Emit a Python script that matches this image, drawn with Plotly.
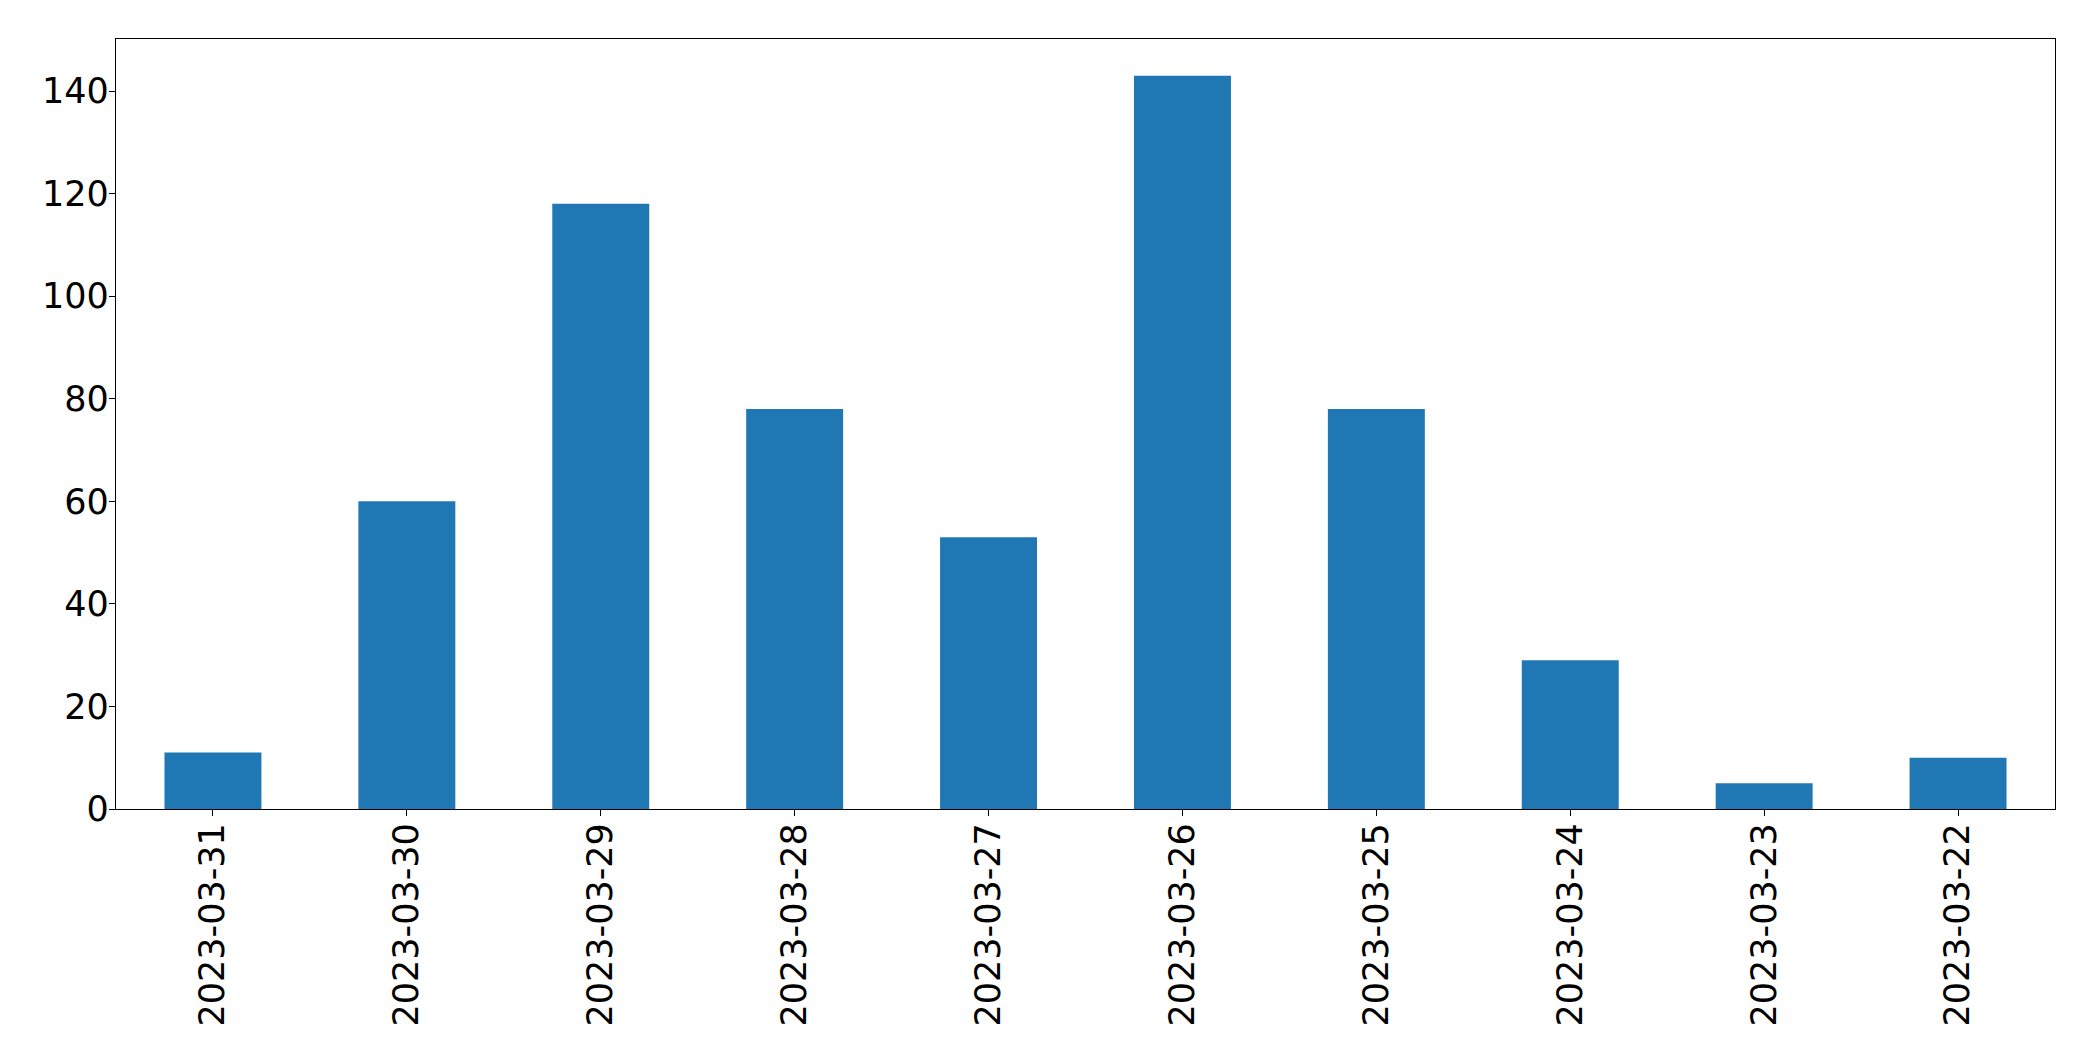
import plotly.graph_objects as go

dates = ["2023-03-31", "2023-03-30", "2023-03-29", "2023-03-28", "2023-03-27",
         "2023-03-26", "2023-03-25", "2023-03-24", "2023-03-23", "2023-03-22"]
counts = [11, 60, 118, 78, 53, 143, 78, 29, 5, 10]
y_ticks = [0, 20, 40, 60, 80, 100, 120, 140]

fig = go.Figure(go.Bar(x=dates, y=counts, marker=dict(color="#1f77b4", line=dict(width=0))))

fig.update_layout(
    width=2093, height=1061,
    margin=dict(l=108, r=46, t=31, b=260),
    paper_bgcolor="white", plot_bgcolor="white",
    bargap=0.5, showlegend=False,
    font=dict(family="DejaVu Sans", size=35, color="black"),
)
fig.update_xaxes(
    type="category", tickangle=-90, showline=True, linecolor="black", linewidth=1.3,
    mirror=True, ticks="outside", ticklen=6, tickcolor="black", showgrid=False,
    tickfont=dict(size=35), range=[-0.5, len(dates) - 0.5], automargin=False,
    ticklabelstandoff=-7,
)
fig.update_yaxes(
    range=[0, 150.15], tickvals=y_ticks, showline=True, linecolor="black", linewidth=1.3,
    mirror=True, ticks="outside", ticklen=6, tickcolor="black", showgrid=False,
    zeroline=False, tickfont=dict(size=35), automargin=False,
    ticklabelstandoff=-7,
)
fig.write_html("out.html")
